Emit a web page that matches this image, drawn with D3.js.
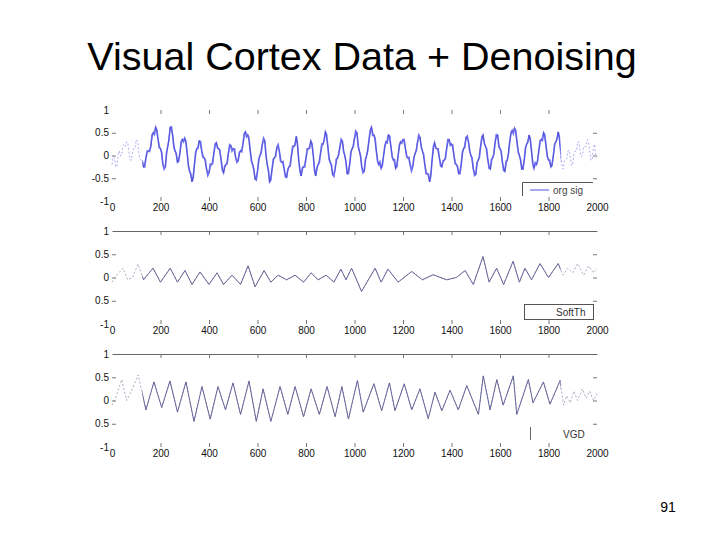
<!DOCTYPE html>
<html>
<head>
<meta charset="utf-8">
<script src="https://cdn.jsdelivr.net/npm/d3@7"></script>
<style>
body { margin: 0; background: #fff; }
svg { display: block; font-family: "Liberation Sans", Arial, sans-serif; }
</style>
</head>
<body>
<div id="plotRegi"></div>
<script>
/* Data */
var titleText = "Visual Cortex Data + Denoising"
var pageNo = "91"

var xTicks = [0, 200, 400, 600, 800, 1000, 1200, 1400, 1600, 1800, 2000]
var yTicks = [-1, -0.5, 0, 0.5, 1]
var yLabelsTop = ["-1", "-0.5", "0", "0.5", "1"]
var yLabelsLow = ["-1", "0.5", "0", "0.5", "1"]   // minus sign lost in the scan
var legendNames = ["org sig", "SoftTh", "VGD"]

// original signal, read every 10 samples (x = 0, 10, 20 ...)
var orgStep = 10
var orgSig = [
    -0.2, -0.05, -0.25, 0.1, 0.0, 0.25, 0.3, 0.05, -0.1, 0.15,
    0.35, 0.1, -0.1, -0.25, -0.05, 0.1, 0.2, 0.5, 0.62, 0.35,
    0.15, -0.2, -0.25, 0.2, 0.62, 0.45, 0.1, -0.15, 0.05, 0.35,
    0.38, 0.05, -0.35, -0.58, -0.2, 0.15, 0.32, 0.1, -0.05, -0.3,
    -0.38, -0.2, 0.05, 0.28, 0.15, -0.1, -0.38, -0.2, 0.05, 0.22,
    0.15, -0.05, -0.12, 0.1, 0.25, 0.52, 0.45, 0.1, -0.2, -0.52,
    -0.35, 0.0, 0.25, 0.32, -0.2, -0.58, -0.3, -0.05, 0.18, 0.1,
    -0.15, -0.3, -0.48, -0.25, 0.0, 0.2, 0.42, -0.1, -0.45, -0.25,
    -0.05, 0.15, 0.32, 0.0, -0.45, -0.2, 0.05, 0.25, 0.52, 0.2,
    -0.15, -0.42, -0.3, -0.05, 0.2, 0.32, 0.0, -0.4, -0.2, 0.15,
    0.38, 0.5, 0.1, -0.25, -0.35, 0.0, 0.35, 0.62, 0.45, 0.1,
    -0.2, -0.28, 0.0, 0.3, 0.45, 0.2, -0.1, -0.28, 0.0, 0.3,
    0.35, 0.15, -0.05, -0.22, -0.25, 0.05, 0.3, 0.4, 0.1, -0.2,
    -0.4, -0.58, -0.1, 0.28, 0.15, -0.05, -0.25, -0.1, 0.15, 0.35,
    0.25, 0.0, -0.2, -0.4, -0.2, 0.15, 0.4, 0.3, 0.0, -0.3,
    -0.42, -0.1, 0.2, 0.45, 0.2, -0.1, -0.3, -0.05, 0.3, 0.45,
    0.15, -0.15, -0.35, -0.1, 0.3, 0.55, 0.6, 0.3, 0.0, -0.3,
    -0.1, 0.25, 0.45, 0.1, -0.28, -0.2, 0.1, 0.35, 0.5, 0.2,
    -0.1, -0.25, 0.0, 0.3, 0.52, 0.1, -0.3, -0.1, 0.1, -0.05,
    -0.2, 0.1, 0.3, 0.1, 0.0, 0.2, 0.35, 0.1, -0.1, 0.25, -0.05
]
// original signal, the samples in between (x = 5, 15, 25 ...)
var orgMid = [
    -0.03, -0.25, 0.0, -0.01, 0.22, 0.2, 0.28, -0.1, 0.08, 0.15,
    0.32, -0.08, -0.12, -0.25, 0.1, 0.09, 0.45, 0.46, 0.56, 0.17,
    0.07, -0.3, 0.07, 0.35, 0.63, 0.18, 0.05, -0.13, 0.3, 0.3,
    0.31, -0.23, -0.4, -0.49, 0.08, 0.16, 0.31, -0.04, -0.1, -0.44,
    -0.19, -0.18, 0.25, 0.16, 0.12, -0.32, -0.23, -0.18, 0.24, 0.1,
    0.15, -0.15, 0.07, 0.08, 0.48, 0.41, 0.38, -0.13, -0.3, -0.54,
    -0.08, 0.05, 0.38, 0.0, -0.31, -0.54, -0.08, -0.02, 0.24, -0.13,
    -0.13, -0.47, -0.3, -0.23, 0.2, 0.23, 0.26, -0.34, -0.27, -0.25,
    0.15, 0.16, 0.26, -0.33, -0.27, -0.16, 0.25, 0.33, 0.46, -0.08,
    -0.2, -0.46, -0.08, 0.02, 0.36, 0.08, -0.14, -0.4, 0.08, 0.19,
    0.54, 0.2, 0.0, -0.38, -0.08, 0.12, 0.56, 0.44, 0.38, -0.13,
    -0.14, -0.22, 0.21, 0.28, 0.43, -0.03, -0.09, -0.24, 0.23, 0.27,
    0.35, -0.03, -0.04, -0.34, -0.04, 0.1, 0.45, 0.19, 0.03, -0.4,
    -0.41, -0.44, 0.19, 0.16, 0.15, -0.23, -0.12, -0.08, 0.35, 0.22,
    0.23, -0.18, -0.24, -0.4, 0.08, 0.18, 0.43, 0.09, -0.05, -0.44,
    -0.16, -0.05, 0.4, 0.27, 0.15, -0.28, -0.08, 0.03, 0.46, 0.2,
    0.1, -0.33, -0.13, 0.04, 0.5, 0.48, 0.55, 0.07, -0.09, -0.3,
    0.18, 0.29, 0.37, -0.19, -0.16, -0.13, 0.32, 0.33, 0.45, -0.03,
    -0.1, -0.22, 0.25, 0.35, 0.41, -0.2, -0.12, -0.08, 0.12, -0.22,
    0.05, 0.1, 0.3, -0.03, 0.2, 0.2, 0.3, -0.1, 0.18, 0.0
]

// soft threshold result (turning points)
var softX = [0, 20, 45, 65, 85, 107, 130, 169, 200, 240, 270, 301, 330, 363, 400, 433,
    460, 495, 530, 561, 590, 627, 655, 685, 720, 755, 790, 821, 850, 883, 915, 944,
    965, 988, 1029, 1085, 1110, 1138, 1180, 1236, 1280, 1324, 1380, 1420, 1456, 1490,
    1530, 1555, 1586, 1615, 1654, 1680, 1703, 1730, 1765, 1800, 1840, 1860, 1880,
    1900, 1920, 1945, 1965, 1985, 2000]
var softY = [-0.1, 0.05, 0.2, -0.05, 0.0, 0.29, -0.05, 0.2, -0.1, 0.2, -0.1, 0.15, -0.15, 0.12, -0.15, 0.1,
    -0.15, 0.05, -0.15, 0.25, -0.2, 0.15, -0.1, 0.05, -0.05, 0.05, -0.1, 0.1, -0.05, 0.05, -0.1, 0.18,
    -0.05, 0.2, -0.3, 0.2, -0.1, 0.18, -0.1, 0.13, -0.05, 0.06, -0.05, 0.0, 0.15, -0.15,
    0.45, -0.1, 0.2, -0.15, 0.35, -0.1, 0.2, -0.05, 0.3, 0.0, 0.3, 0.05, 0.2,
    0.1, 0.3, 0.05, 0.25, 0.1, 0.2]

// VGD result (turning points)
var vgdX = [0, 15, 40, 60, 80, 108, 140, 173, 205, 239, 270, 305, 338, 371, 405, 437,
    468, 499, 530, 565, 595, 623, 655, 693, 725, 755, 790, 821, 855, 887, 920, 948,
    975, 1012, 1036, 1080, 1112, 1144, 1167, 1205, 1236, 1270, 1304, 1332, 1360, 1394,
    1428, 1463, 1511, 1531, 1559, 1587, 1613, 1655, 1669, 1717, 1736, 1779, 1806, 1848,
    1862, 1875, 1890, 1905, 1920, 1940, 1955, 1970, 1985, 2000]
var vgdY = [-0.1, 0.05, 0.45, 0.0, 0.2, 0.55, -0.2, 0.4, -0.15, 0.42, -0.25, 0.4, -0.45, 0.3, -0.4, 0.3,
    -0.2, 0.38, -0.3, 0.42, -0.45, 0.25, -0.45, 0.3, -0.3, 0.3, -0.35, 0.25, -0.3, 0.3, -0.35, 0.3,
    -0.4, 0.43, -0.25, 0.36, -0.22, 0.38, -0.22, 0.36, -0.2, 0.25, -0.39, 0.18, -0.22, 0.22,
    -0.2, 0.32, -0.3, 0.53, -0.2, 0.45, -0.1, 0.53, -0.3, 0.45, -0.05, 0.4, -0.08, 0.43,
    -0.1, 0.1, -0.05, 0.2, 0.0, 0.25, 0.05, 0.2, 0.0, 0.15]


/* Preparing */
var W = 720, H = 540

var svg = d3.select("#plotRegi")
    .append("svg")
    .attr("width", W)
    .attr("height", H)

svg.append("rect").attr("width", W).attr("height", H).style("fill", "white")

// Title & page number
svg.append("text")
    .attr("x", 362)
    .attr("y", 70)
    .attr("text-anchor", "middle")
    .style("font-size", "39.5px")
    .style("fill", "#000")
    .text(titleText)

svg.append("text")
    .attr("x", 668)
    .attr("y", 512)
    .attr("text-anchor", "middle")
    .style("font-size", "14px")
    .style("fill", "#000")
    .text(pageNo)

var scale_x = d3.scaleLinear().domain([0, 2000]).range([112, 597])

// clip for the part of the signal that is drawn solid (edges are washed out)
svg.append("clipPath").attr("id", "mid")
    .append("rect")
    .attr("x", scale_x(125)).attr("y", 0)
    .attr("width", scale_x(1850) - scale_x(125)).attr("height", H)


/* Panels */
var orgPts = []
for (let i = 0; i < orgSig.length; i++) {
    orgPts.push([i * orgStep, orgSig[i]])
    if (i < orgMid.length) orgPts.push([i * orgStep + orgStep / 2, orgMid[i]])
}
var orgCoarse = orgSig.map((v, i) => [i * orgStep, v])
var softPts = softX.map((v, i) => [v, softY[i]])
var vgdPts = vgdX.map((v, i) => [v, vgdY[i]])

drawPanel({ top: 110, bottom: 201, labels: yLabelsTop, topLine: false, pts: orgPts, kind: "org" })
drawPanel({ top: 231, bottom: 324, labels: yLabelsLow, topLine: true, pts: softPts, kind: "soft" })
drawPanel({ top: 354, bottom: 447, labels: yLabelsLow, topLine: true, pts: vgdPts, kind: "vgd" })

// Legends (only partly visible in the scan)
var lg1 = svg.append("g").style("stroke", "#555").style("stroke-width", 1)
lg1.append("line").attr("x1", 522.5).attr("y1", 182.5).attr("x2", 593).attr("y2", 182.5)
lg1.append("line").attr("x1", 522.5).attr("y1", 182.5).attr("x2", 522.5).attr("y2", 196)
svg.append("line")
    .attr("x1", 530).attr("y1", 190).attr("x2", 549).attr("y2", 190)
    .style("stroke", "#6f6fe8").style("stroke-width", 1.2)
svg.append("text").attr("x", 553).attr("y", 193.5)
    .style("font-size", "10px").style("fill", "#444").text(legendNames[0])

svg.append("rect")
    .attr("x", 524.5).attr("y", 304.5).attr("width", 69).attr("height", 15)
    .style("fill", "white").style("stroke", "#555").style("stroke-width", 1)
svg.append("text").attr("x", 556).attr("y", 315.5)
    .style("font-size", "10px").style("fill", "#333").text(legendNames[1])

svg.append("line")
    .attr("x1", 530.5).attr("y1", 427).attr("x2", 530.5).attr("y2", 440)
    .style("stroke", "#666").style("stroke-width", 1)
svg.append("text").attr("x", 563).attr("y", 437.5)
    .style("font-size", "10px").style("fill", "#333").text(legendNames[2])


/* Function */
function drawPanel(cfg) {
    var scale_y = d3.scaleLinear().domain([-1, 1]).range([cfg.bottom, cfg.top])
    var g = svg.append("g")

    // Axes
    var ax = g.append("g")
        .attr("transform", "translate(0," + cfg.bottom + ")")
        .call(d3.axisBottom(scale_x).tickValues(xTicks).tickSizeInner(-4).tickSizeOuter(0).tickPadding(3)
            .tickFormat(d3.format("d")))
    ax.select(".domain").remove()
    ax.selectAll(".tick").filter(d => d == 0 || d == 2000).select("line").remove()

    var at = g.append("g")
        .attr("transform", "translate(0," + cfg.top + ")")
        .call(d3.axisTop(scale_x).tickValues(xTicks.slice(1, -1)).tickSizeInner(-4).tickSizeOuter(0).tickFormat(""))
    if (!cfg.topLine) at.select(".domain").remove()

    var al = g.append("g")
        .attr("transform", "translate(" + scale_x(0) + ",0)")
        .call(d3.axisLeft(scale_y).tickValues(yTicks).tickSizeInner(-4).tickSizeOuter(0).tickPadding(3)
            .tickFormat((d, i) => cfg.labels[i]))
    al.select(".domain").remove()
    al.selectAll(".tick").filter(d => d == 1 || d == -1).select("line").remove()

    var ar = g.append("g")
        .attr("transform", "translate(" + scale_x(2000) + ",0)")
        .call(d3.axisRight(scale_y).tickValues([-0.5, 0, 0.5]).tickSizeInner(-4).tickSizeOuter(0).tickFormat(""))
    ar.select(".domain").remove()

    g.selectAll(".tick line").style("stroke", "#777")
    g.selectAll(".domain").style("stroke", "#666")
    g.selectAll(".tick text").style("font-size", "10px").style("fill", "#111")
        .style("font-family", "'Liberation Sans', Arial, sans-serif")

    // Signal
    var line = d3.line().x(d => scale_x(d[0])).y(d => scale_y(d[1]))

    if (cfg.kind == "org") {
        // washed-out edges
        g.append("path").attr("d", line(cfg.pts))
            .style("fill", "none").style("stroke", "#8a8af0").style("stroke-width", 1)
            .style("stroke-dasharray", "2,2").style("opacity", 0.7)
        g.append("path").attr("d", line(cfg.pts)).attr("clip-path", "url(#mid)")
            .style("fill", "none").style("stroke", "#6e6ef0").style("stroke-width", 1.6)
        g.append("path").attr("d", line(orgCoarse)).attr("clip-path", "url(#mid)")
            .style("fill", "none").style("stroke", "#1c1ca8").style("stroke-width", 0.7)
            .style("opacity", 0.45)
    } else {
        g.append("path").attr("d", line(cfg.pts))
            .style("fill", "none").style("stroke", "#8888aa").style("stroke-width", 1)
            .style("stroke-dasharray", "2,2").style("opacity", 0.7)
        g.append("path").attr("d", line(cfg.pts)).attr("clip-path", "url(#mid)")
            .style("fill", "none").style("stroke", "#66669a").style("stroke-width", 1)
    }
}
</script>
</body>
</html>
